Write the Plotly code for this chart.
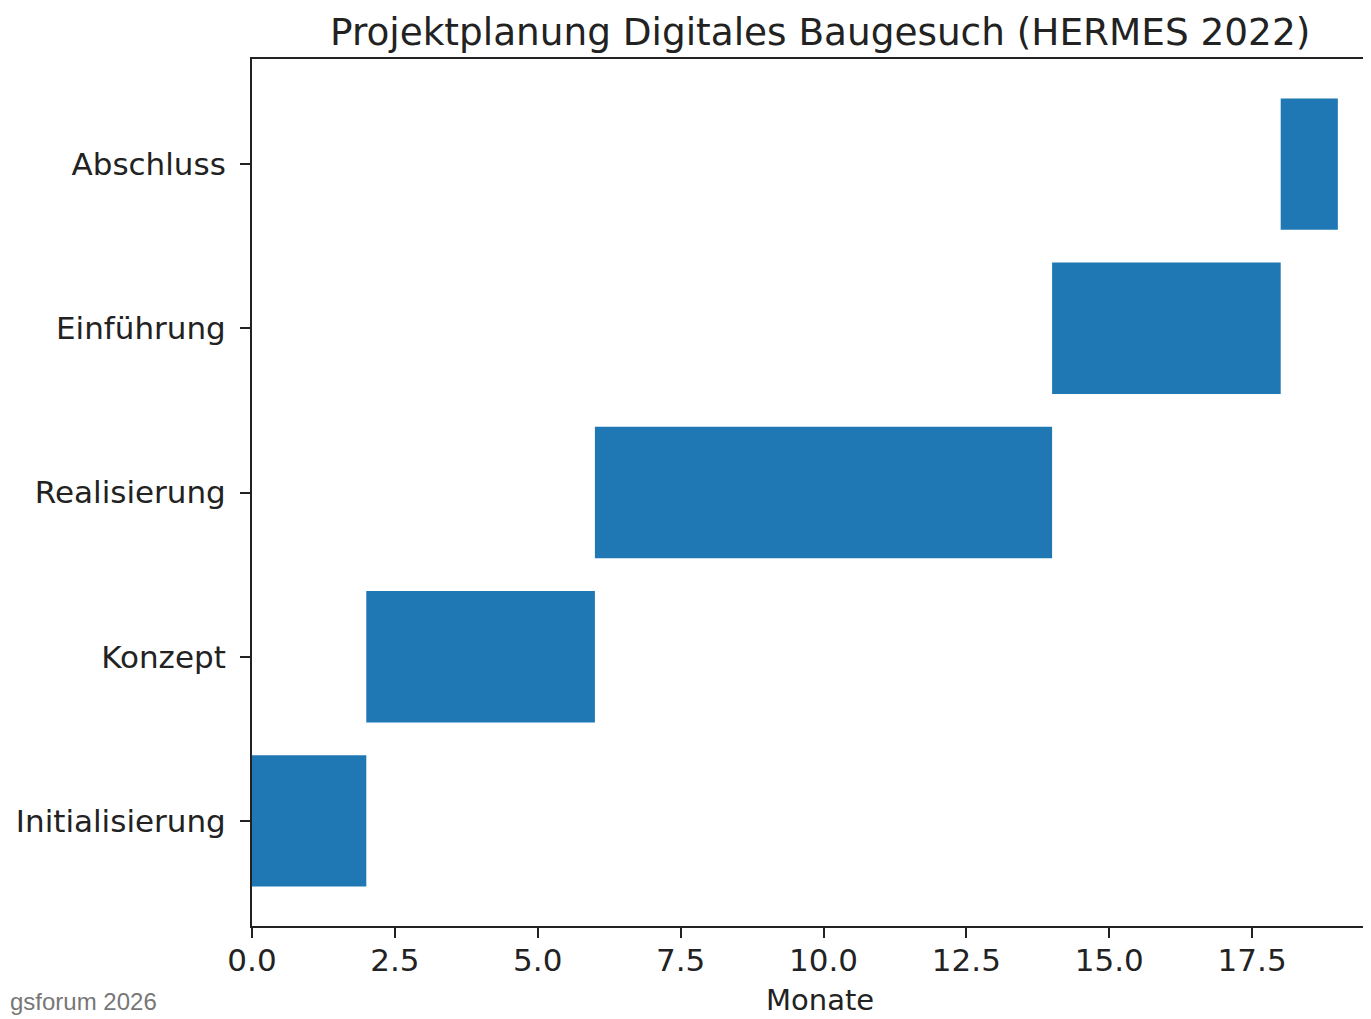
import plotly.graph_objects as go

phases = ["Initialisierung", "Konzept", "Realisierung", "Einführung", "Abschluss"]
starts = [0, 2, 6, 14, 18]
durations = [2, 4, 8, 4, 1]
x_ticks = [0.0, 2.5, 5.0, 7.5, 10.0, 12.5, 15.0, 17.5]
x_tick_labels = ["0.0", "2.5", "5.0", "7.5", "10.0", "12.5", "15.0", "17.5"]

OFF = 8  # page body margin
W, H = 1371 - OFF, 1019 - OFF
L, T = 252 - OFF, 59 - OFF
plot_bottom = 926 - OFF
B = H - plot_bottom
R = 0
pw = W - L - R
ph = H - T - B


def py(page_y):
    return 1 - (page_y - OFF - T) / ph


def px(page_x):
    return (page_x - OFF - L) / pw


fig = go.Figure(go.Bar(
    y=phases, x=durations, base=starts, orientation="h",
    width=0.8, marker=dict(color="#1f77b4", line=dict(width=0)),
    hoverinfo="skip",
))

font = "DejaVu Sans"
fig.update_layout(
    width=W, height=H,
    margin=dict(l=L, r=R, t=T, b=B),
    plot_bgcolor="white", paper_bgcolor="white",
    showlegend=False,
    font=dict(family=font, size=31, color="#222"),
    xaxis=dict(
        range=[0, 19.58], tickvals=x_ticks, ticktext=x_tick_labels,
        showgrid=False, zeroline=False,
        showline=True, linecolor="#222", linewidth=2, mirror=True,
        ticks="outside", ticklen=10, tickwidth=2, tickcolor="#222",
        ticklabelstandoff=-4,
        tickfont=dict(family=font, size=31, color="#222"),
    ),
    yaxis=dict(
        type="category", range=[-0.64, 4.64],
        showgrid=False, zeroline=False,
        showline=True, linecolor="#222", linewidth=2,
        ticks="outside", ticklen=10, tickwidth=2, tickcolor="#222",
        ticklabelstandoff=8,
        tickfont=dict(family=font, size=31, color="#222"),
    ),
    annotations=[
        dict(text="Projektplanung Digitales Baugesuch (HERMES 2022)",
             xref="paper", yref="paper",
             x=px(820), y=py(OFF),
             xanchor="center", yanchor="top", showarrow=False,
             font=dict(family=font, size=37.4, color="#222")),
        dict(text="Monate", xref="paper", yref="paper",
             x=px(820), y=py(1019),
             xanchor="center", yanchor="bottom", showarrow=False,
             font=dict(family=font, size=29, color="#222")),
        dict(text="gsforum 2026", xref="paper", yref="paper",
             x=px(OFF), y=py(1001),
             xanchor="left", yanchor="middle", showarrow=False,
             font=dict(family="Liberation Sans", size=24, color="#777")),
    ],
)

fig.write_html("out.html")
